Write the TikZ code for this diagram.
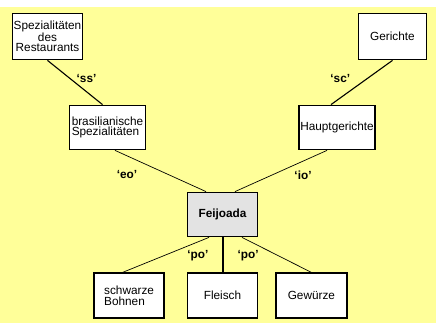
\documentclass[tikz,border=0pt]{standalone}
\usepackage{fontspec}
\setmainfont{Liberation Sans}
\usepackage{tikz}
\usetikzlibrary{positioning}
\definecolor{paleyellow}{HTML}{FFFF99}
\definecolor{feijgray}{HTML}{E3E3E3}

\begin{document}
\begin{tikzpicture}[x=1pt,y=1pt,node distance=35pt and 22pt,
  box/.style={draw,line width=1.8pt,fill=white,align=center,inner sep=1pt,font=\fontsize{11.8}{10.5}\selectfont},
  rel/.style={font=\bfseries\fontsize{11.8}{12}\selectfont}]
\useasboundingbox (0,0) rectangle (436,323);
\fill[white] (0,0) rectangle (436,323);
\fill[paleyellow] (0,0) rectangle (436,316);
\node[box,minimum width=70pt,minimum height=46pt] (rest) at (47.5,286.5) {Spezialitäten\\des\\Restaurants};
\node[box,minimum width=68pt,minimum height=46pt] (ger) at (392.5,286.5) {Gerichte};
\node[box,align=left,minimum width=76pt,minimum height=44pt] (bras) at (107.5,195.5) {brasilianische\\Spezialitäten};
\node[box,minimum width=75pt,minimum height=44pt] (haupt) at (337,195.5) {Hauptgerichte};
\node[box,fill=feijgray,font=\bfseries\fontsize{11.8}{12}\selectfont,minimum width=70pt,minimum height=44pt] (feij) at (222.5,108.5) {Feijoada};
\node[box,line width=1.4pt,align=left,minimum width=70pt,minimum height=45pt,below=35pt of feij] (fleisch) {Fleisch};
\node[box,line width=1.4pt,align=left,minimum width=70pt,minimum height=45pt,left=22pt of fleisch] (bohnen) {schwarze\\Bohnen};
\node[box,line width=1.4pt,minimum width=71pt,minimum height=45pt,right=17pt of fleisch] (gew) {Gewürze};
\draw[line width=1.1pt] (rest.south)--node[rel,xshift=11.5pt,yshift=3.5pt]{‘ss’}([xshift=-5pt]bras.north);
\draw[line width=1.1pt] (ger.south)--node[rel,xshift=-21.5pt,yshift=3.5pt]{‘sc’}([xshift=-6pt]haupt.north);
\draw[line width=0.7pt] ([xshift=7.5pt]bras.south)--node[rel,xshift=-33.5pt,yshift=-4pt]{‘eo’}([xshift=-16.5pt]feij.north);
\draw[line width=0.7pt] ([xshift=-10pt]haupt.south)--node[rel,xshift=22pt,yshift=-4pt]{‘io’}([xshift=12.5pt]feij.north);
\draw[line width=0.7pt] ([xshift=-13.5pt]feij.south)--node[rel,xshift=32pt,yshift=-0.5pt]{‘po’}([xshift=-6.5pt]bohnen.north);
\draw[line width=2pt] (feij.south)--(fleisch.north);
\draw[line width=0.7pt] ([xshift=19.5pt]feij.south)--node[rel,xshift=-28.5pt,yshift=-0.5pt]{‘po’}(gew.north);
\end{tikzpicture}
\end{document}
